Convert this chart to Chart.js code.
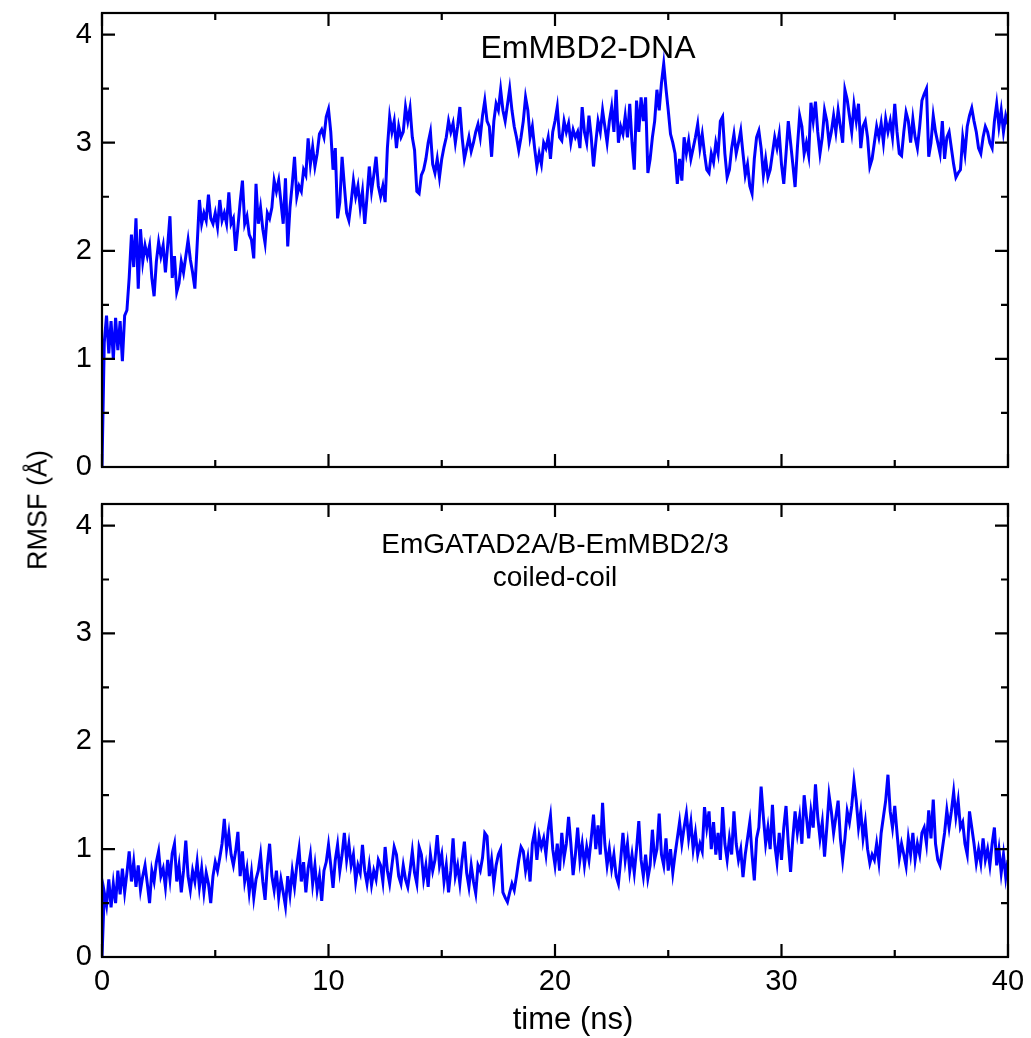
<!DOCTYPE html>
<html>
<head>
<meta charset="utf-8">
<script src="https://cdn.jsdelivr.net/npm/chart.js@4.4.1/dist/chart.umd.min.js"></script>
<style>
  body { margin: 0; background: #fff; }
  #wrap { position: relative; width: 1031px; height: 1038px; font-family: "Liberation Sans", Arial, Helvetica, sans-serif; }
  #topChart { position: absolute; left: 0; top: 0; }
  #bottomChart { position: absolute; left: 0; top: 490px; }
  #yTitle { position: absolute; left: 38px; top: 510px; transform: translate(-50%, -50%) rotate(-90deg); font-size: 27px; white-space: nowrap; color: #000; }
</style>
</head>
<body>
<div id="wrap">
  <canvas id="topChart" width="1031" height="490"></canvas>
  <canvas id="bottomChart" width="1031" height="548"></canvas>
  <div id="yTitle">RMSF (Å)</div>
</div>
<script>
// sampling step of both trajectories (ns)
const timeStep = 0.1;

// RMSF, EmMBD2-DNA (top panel), one value per 0.1 ns from 0 to 40 ns
const dnaRmsf = [
  0,
  1.15, 1.40, 1.05, 1.35, 1.00, 1.38, 1.08, 1.35, 0.98,
  1.40, 1.45, 1.75, 2.15, 1.85, 2.30, 1.65, 2.20, 1.90, 2.05,
  1.95, 2.05, 1.75, 1.58, 1.90, 2.08, 1.95, 2.05, 1.80, 2.05,
  2.32, 1.75, 1.95, 1.62, 1.70, 1.90, 1.80, 1.95, 2.10, 1.92,
  1.80, 1.65, 2.05, 2.47, 2.25, 2.35, 2.28, 2.52, 2.30, 2.25,
  2.35, 2.22, 2.47, 2.28, 2.35, 2.25, 2.54, 2.25, 2.30, 2.00,
  2.22, 2.45, 2.65, 2.25, 2.32, 2.15, 2.10, 1.93, 2.62, 2.25,
  2.40, 2.20, 2.07, 2.35, 2.30, 2.40, 2.65, 2.55, 2.65, 2.45,
  2.25, 2.67, 2.04, 2.40, 2.62, 2.87, 2.50, 2.60, 2.55, 2.75,
  2.70, 3.04, 2.80, 2.96, 2.78, 2.90, 3.08, 3.12, 3.05, 3.24,
  3.31, 3.10, 2.75, 2.95, 2.30, 2.45, 2.87, 2.60, 2.35, 2.28,
  2.45, 2.65, 2.50, 2.60, 2.40, 2.55, 2.25, 2.50, 2.78, 2.55,
  2.70, 2.87, 2.60, 2.50, 2.60, 2.45, 2.95, 3.24, 3.10, 3.20,
  2.95, 3.15, 3.05, 3.10, 3.33, 3.20, 3.32, 3.05, 2.93, 2.55,
  2.53, 2.70, 2.75, 2.85, 3.00, 3.10, 2.80, 2.72, 2.85, 2.68,
  2.85, 2.96, 3.05, 3.20, 3.10, 3.18, 3.00, 3.15, 3.33, 3.05,
  2.85, 2.95, 3.05, 2.92, 3.00, 3.10, 3.17, 3.05, 3.25, 3.39,
  3.20, 3.15, 2.87, 3.20, 3.36, 3.30, 3.49, 3.30, 3.20, 3.35,
  3.50, 3.30, 3.15, 3.05, 2.93, 3.05, 3.20, 3.42, 3.30, 3.05,
  3.15, 2.95, 2.78, 2.90, 2.80, 3.00, 2.95, 3.05, 2.85, 3.10,
  3.20, 3.33, 3.05, 3.02, 3.20, 3.10, 3.18, 3.00, 3.12, 3.05,
  3.10, 2.95, 3.33, 3.10, 3.00, 3.25, 3.05, 2.78, 3.00, 3.20,
  3.10, 3.30, 3.15, 3.00, 3.20, 3.33, 3.10, 3.49, 3.00, 3.15,
  3.08, 3.25, 3.05, 3.36, 3.00, 2.75, 3.39, 3.10, 3.42, 3.20,
  3.42, 2.72, 2.85, 3.05, 3.20, 3.49, 3.30, 3.55, 3.73, 3.50,
  3.30, 3.08, 3.00, 2.90, 2.62, 2.85, 2.65, 3.05, 2.90, 3.02,
  2.85, 2.95, 3.05, 3.17, 2.95, 3.08, 2.90, 2.75, 2.72, 2.90,
  2.82, 3.00, 2.90, 3.20, 3.24, 2.90, 2.68, 2.75, 2.95, 3.08,
  2.90, 3.00, 3.11, 2.90, 2.70, 2.80, 2.60, 2.53, 2.85, 3.05,
  3.11, 2.95, 2.70, 2.85, 2.68, 2.75, 2.90, 3.05, 2.95, 3.08,
  2.80, 2.62, 2.90, 3.20, 3.00, 2.80, 2.59, 2.95, 3.25, 3.15,
  2.90, 3.00, 2.88, 3.37, 3.20, 3.38, 3.10, 2.90, 3.05, 3.30,
  3.20, 3.00, 3.10, 3.25, 3.10, 3.30, 3.15, 3.00, 3.49, 3.40,
  3.25, 3.10, 3.35, 3.20, 3.36, 2.95, 3.15, 3.20, 3.05, 2.78,
  2.85, 3.00, 3.15, 3.05, 3.18, 3.00, 3.22, 3.10, 3.20, 3.05,
  3.36, 3.10, 2.90, 2.88, 3.10, 3.28, 3.20, 3.00, 3.22, 3.05,
  2.95, 3.15, 3.39, 3.45, 3.50, 2.87, 3.00, 3.25, 3.10, 3.00,
  2.90, 3.20, 2.85, 3.05, 3.10, 2.95, 2.80, 2.68, 2.72, 2.75,
  3.05, 2.90, 3.15, 3.25, 3.32, 3.20, 3.10, 2.95, 2.90, 3.05,
  3.15, 3.10, 3.00, 2.95, 3.20, 3.36, 3.15, 3.30, 3.10, 3.25,
  3.17
];

// RMSF, EmGATAD2A/B-EmMBD2/3 coiled-coil (bottom panel)
const coilRmsf = [
  0,
  0.60, 0.48, 0.72, 0.46, 0.68, 0.50, 0.80, 0.58, 0.82,
  0.60, 0.78, 0.98, 0.70, 0.88, 0.65, 0.85, 0.62, 0.75, 0.85,
  0.68, 0.50, 0.80, 0.70, 0.88, 0.98, 0.75, 0.82, 0.65, 0.90,
  0.72, 0.96, 1.05, 0.70, 0.85, 0.60, 0.80, 1.08, 0.75, 0.62,
  0.80, 0.70, 0.88, 0.65, 0.82, 0.60, 0.78, 0.68, 0.50, 0.75,
  0.88, 0.80, 0.92, 1.05, 1.28, 1.00, 1.15, 0.95, 0.85, 0.98,
  1.16, 0.75, 0.98, 0.70, 0.82, 0.60, 0.78, 0.55, 0.72, 0.80,
  0.95, 0.70, 0.53, 0.85, 1.05, 0.75, 0.62, 0.80, 0.55, 0.72,
  0.60, 0.47, 0.75, 0.58, 0.80, 0.65, 0.85, 1.00, 0.70, 0.88,
  0.60, 0.82, 0.95, 0.68, 0.85, 0.62, 0.75, 0.52, 0.80, 0.88,
  1.04, 0.85, 0.64, 0.90, 1.04, 0.80, 0.95, 1.15, 0.90, 1.05,
  0.85, 0.95, 0.70, 0.85, 0.78, 1.04, 0.80, 0.68, 0.85, 0.67,
  0.80, 0.72, 0.90, 0.85, 0.70, 1.02, 0.80, 0.68, 0.85, 1.02,
  0.95, 0.75, 0.68, 0.85, 0.72, 0.65, 0.80, 0.98, 0.78, 0.68,
  1.02, 0.95, 0.72, 0.85, 0.65, 0.95, 0.80, 0.90, 1.13, 0.85,
  0.95, 0.70, 0.85, 0.60, 0.80, 1.10, 0.75, 0.85, 0.68, 0.90,
  1.07, 0.78, 0.65, 0.85, 0.70, 0.59, 0.85, 0.80, 0.92, 1.15,
  1.12, 0.75, 0.90, 0.68, 0.85, 0.95, 1.00, 0.60, 0.55, 0.51,
  0.60, 0.68, 0.62, 0.75, 0.90, 1.02, 0.98, 0.80, 0.92, 0.70,
  1.05, 1.16, 0.90, 1.12, 1.02, 1.10, 0.95, 1.18, 1.31, 1.00,
  0.85, 1.05, 0.80, 1.15, 0.92, 1.05, 1.30, 1.05, 0.76, 0.95,
  1.20, 0.90, 1.05, 0.85, 1.02, 0.90, 1.10, 1.32, 1.00, 1.22,
  0.95, 1.43, 1.05, 0.85, 1.00, 0.82, 0.95, 0.75, 0.68, 0.90,
  1.15, 0.90, 1.05, 0.80, 0.95, 0.78, 1.00, 1.26, 0.90, 0.75,
  0.95, 0.73, 0.85, 1.18, 0.90, 1.00, 1.33, 0.95, 0.85, 1.10,
  0.80, 1.00, 0.78, 0.95, 1.10, 1.25, 1.05, 1.20, 1.33, 1.10,
  1.25, 1.00, 1.15, 0.95, 1.05, 0.98, 1.39, 1.20, 1.35, 1.00,
  1.25, 0.95, 1.15, 0.90, 1.39, 1.05, 0.90, 1.10, 0.95, 1.35,
  1.05, 0.90, 1.00, 0.74, 0.95, 1.10, 1.25, 0.95, 0.71, 1.10,
  1.20, 1.58, 1.30, 1.05, 1.20, 1.00, 1.41, 1.05, 0.88, 1.15,
  0.90, 1.20, 1.40, 1.05, 0.79, 1.10, 1.35, 1.15, 1.30, 1.05,
  1.50, 1.30, 1.10, 1.35, 1.20, 1.60, 1.30, 1.10, 1.25, 0.93,
  1.20, 1.50, 1.35, 1.15, 1.30, 1.45, 1.10, 0.90, 1.10, 1.35,
  1.25, 1.40, 1.63, 1.45, 1.20, 1.35, 1.10, 1.25, 1.00, 0.87,
  0.95, 0.90, 1.05, 0.88, 1.15, 1.30, 1.45, 1.69, 1.35, 1.20,
  1.40, 1.15, 0.92, 1.05, 0.95, 0.84, 1.10, 0.95, 1.15, 0.90,
  1.05, 0.95, 1.15, 1.20, 1.05, 1.36, 1.10, 1.46, 1.05, 0.90,
  0.85, 1.00, 1.15, 1.36, 1.20, 1.35, 1.53, 1.30, 1.45, 1.20,
  1.25, 1.05, 0.95, 1.35, 1.20, 1.05, 0.87, 1.00, 0.87, 1.10,
  0.90, 1.00, 0.85, 1.05, 1.20, 0.85, 1.00, 0.78, 0.95, 0.74,
  0.90
];

// axes
const xMajor = [0, 10, 20, 30, 40];
const xMinor = [5, 15, 25, 35];
const yMajor = [0, 1, 2, 3, 4];
const yMinor = [0.5, 1.5, 2.5, 3.5];

const FONT = '"Liberation Sans", Arial, Helvetica, sans-serif';
const LINE_BLUE = '#0000ff';

function toPoints(values) {
  return values.map((v, i) => ({ x: +(i * timeStep).toFixed(1), y: v }));
}

// frame, inward ticks on all four sides, panel caption and x title
const framePlugin = {
  id: 'frameTicks',
  afterDraw(chart, args, opts) {
    const { ctx, chartArea: a, scales: { x, y } } = chart;
    ctx.save();
    ctx.strokeStyle = '#000';
    ctx.lineWidth = 2.2;
    ctx.strokeRect(a.left, a.top, a.right - a.left, a.bottom - a.top);
    ctx.beginPath();
    const tickX = (vals, len) => vals.forEach(v => {
      const px = x.getPixelForValue(v);
      ctx.moveTo(px, a.bottom); ctx.lineTo(px, a.bottom - len);
      ctx.moveTo(px, a.top); ctx.lineTo(px, a.top + len);
    });
    const tickY = (vals, len) => vals.forEach(v => {
      const py = y.getPixelForValue(v);
      ctx.moveTo(a.left, py); ctx.lineTo(a.left + len, py);
      ctx.moveTo(a.right, py); ctx.lineTo(a.right - len, py);
    });
    tickX(xMajor, 13); tickX(xMinor, 7);
    tickY(yMajor, 13); tickY(yMinor, 7);
    ctx.stroke();

    ctx.fillStyle = '#000';
    ctx.textAlign = 'center';
    ctx.textBaseline = 'middle';
    ctx.font = opts.size + 'px ' + FONT;
    const cx = (a.left + a.right) / 2 + (opts.dx || 0);
    (opts.lines || []).forEach((t, i) => {
      ctx.fillText(t, cx, a.top + opts.dy + i * opts.lineGap);
    });
    if (opts.xTitle) {
      ctx.font = opts.xTitle.size + 'px ' + FONT;
      ctx.fillText(opts.xTitle.text, (a.left + a.right) / 2 + opts.xTitle.dx, a.bottom + opts.xTitle.dy);
    }
    ctx.restore();
  }
};

function makeChart(id, values, caption, showXLabels) {
  const ctx = document.getElementById(id).getContext('2d');
  return new Chart(ctx, {
    type: 'line',
    data: {
      datasets: [{
        data: toPoints(values),
        borderColor: LINE_BLUE,
        borderWidth: 3,
        pointRadius: 0,
        tension: 0,
        fill: false
      }]
    },
    options: {
      responsive: false,
      animation: false,
      devicePixelRatio: 1,
      layout: { padding: { top: showXLabels ? 14 : 13, right: 23, left: 0, bottom: 0 } },
      plugins: {
        legend: { display: false },
        tooltip: { enabled: false },
        frameTicks: caption
      },
      scales: {
        x: {
          type: 'linear',
          min: 0, max: 40,
          afterBuildTicks: s => { s.ticks = xMajor.map(v => ({ value: v })); },
          afterFit: s => { s.height = showXLabels ? 81 : 23; s.paddingLeft = 0; s.paddingRight = 0; },
          grid: { display: false, drawTicks: false },
          border: { display: false },
          ticks: { display: showXLabels, color: '#000', padding: 8, maxRotation: 0, font: { family: FONT, size: 29 } }
        },
        y: {
          min: 0, max: 4.2,
          afterBuildTicks: s => { s.ticks = yMajor.map(v => ({ value: v })); },
          afterFit: s => { s.width = 102; s.paddingTop = 0; s.paddingBottom = 0; },
          grid: { display: false, drawTicks: false },
          border: { display: false },
          ticks: { color: '#000', padding: 10, font: { family: FONT, size: 29 } }
        }
      }
    },
    plugins: [framePlugin]
  });
}

makeChart('topChart', dnaRmsf,
  { lines: ['EmMBD2-DNA'], size: 32, dx: 33, dy: 36, lineGap: 0 }, false);
makeChart('bottomChart', coilRmsf,
  { lines: ['EmGATAD2A/B-EmMBD2/3', 'coiled-coil'], size: 28, dx: 0, dy: 41, lineGap: 33,
    xTitle: { text: 'time (ns)', size: 31, dx: 18, dy: 63 } }, true);
</script>
</body>
</html>
